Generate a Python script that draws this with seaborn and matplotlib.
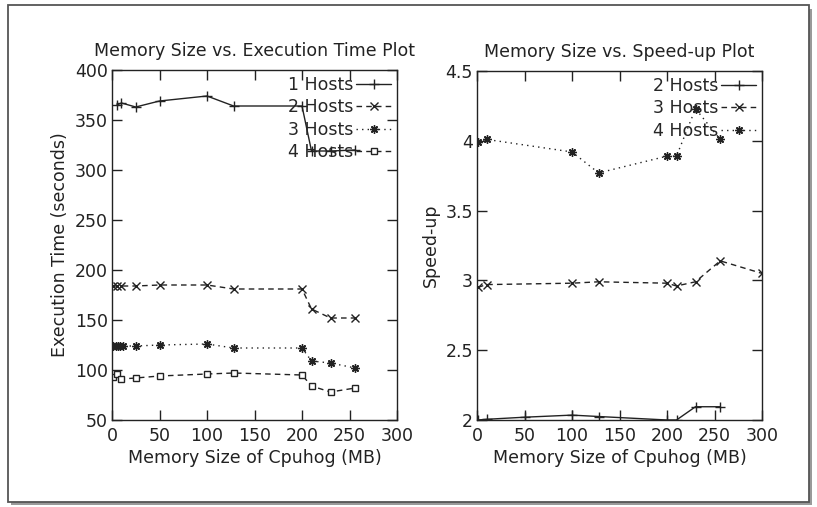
import matplotlib
matplotlib.use("Agg")
import matplotlib.pyplot as plt
import matplotlib.patches as mpatches
from matplotlib.ticker import FormatStrFormatter
import seaborn as sns
import pandas as pd

# ---------------- data ----------------
# Left: execution time (seconds) vs memory size of cpuhog (MB)
exec_x_1 = [5, 10, 25, 50, 100, 128, 200, 210, 230, 256]
exec_y_1 = [365, 367, 363, 369, 374, 364, 364, 319, 319, 320]
exec_x_2 = [1, 5, 10, 25, 50, 100, 128, 200, 210, 230, 256]
exec_y_2 = [184, 184, 184, 184, 185, 185, 181, 181, 161, 152, 152]
exec_x_3 = [1, 4, 6, 8, 12, 25, 50, 100, 128, 200, 210, 230, 256]
exec_y_3 = [124, 124, 124, 124, 124, 124, 125, 126, 122, 122, 109, 107, 102]
exec_x_4 = [1, 5, 10, 25, 50, 100, 128, 200, 210, 230, 256]
exec_y_4 = [93, 96, 91, 92, 94, 96, 97, 95, 84, 78, 82]

# Right: speed-up vs memory size of cpuhog (MB)
sp_x_2 = [1, 10, 50, 100, 128, 200, 210, 230, 256]
sp_y_2 = [2.0, 2.005, 2.02, 2.035, 2.025, 2.0, 2.0, 2.095, 2.095]
sp_x_3 = [1, 10, 100, 128, 200, 210, 230, 256, 300]
sp_y_3 = [2.95, 2.97, 2.98, 2.99, 2.98, 2.96, 2.99, 3.14, 3.05]
sp_x_4 = [1, 10, 100, 128, 200, 210, 230, 256]
sp_y_4 = [3.99, 4.01, 3.92, 3.77, 3.89, 3.89, 4.23, 4.01]

exec_labels = ["1 Hosts", "2 Hosts", "3 Hosts", "4 Hosts"]
sp_labels = ["2 Hosts", "3 Hosts", "4 Hosts"]
x_ticks = [0, 50, 100, 150, 200, 250, 300]
exec_ticks = [50, 100, 150, 200, 250, 300, 350, 400]
sp_ticks = [2, 2.5, 3, 3.5, 4, 4.5]

# ---------------- styles ----------------
sns.set_theme(style="white")
plt.rcParams["font.family"] = ["DejaVu Sans"]
INK = "#222222"
ASTER = (8, 2, 0)
style_list = [
    dict(marker="+", dashes=None, ms=7),          # solid, plus
    dict(marker="x", dashes=(4, 3), ms=5.5),      # dashed, cross
    dict(marker=ASTER, dashes=(1, 3), ms=6),      # dotted, asterisk
    dict(marker="s", dashes=(4, 3), ms=5),        # dashed, square
]

fig = plt.figure(figsize=(8.17, 5.07), dpi=100)
W, H = 817, 507


def ax_rect(x0, x1, ytop, ybot):
    return [x0 / W, 1 - ybot / H, (x1 - x0) / W, (ybot - ytop) / H]


axL = fig.add_axes(ax_rect(112, 397, 70, 420))
axR = fig.add_axes(ax_rect(477, 762, 71, 420))


def draw(ax, xs, ys, label, st):
    df = pd.DataFrame({"x": xs, "y": ys})
    kw = dict(data=df, x="x", y="y", ax=ax, color=INK, lw=1.0,
              marker=st["marker"], markersize=st["ms"], markeredgewidth=1.0,
              markeredgecolor=INK, label=label, legend=False)
    if st["marker"] == "s":
        kw.update(markerfacecolor="white")
    sns.lineplot(**kw)
    ln = ax.get_lines()[-1]
    if st["dashes"] is not None:
        ln.set_dashes(st["dashes"])
    return ln


linesL = [draw(axL, x, y, l, s) for x, y, l, s in zip(
    [exec_x_1, exec_x_2, exec_x_3, exec_x_4],
    [exec_y_1, exec_y_2, exec_y_3, exec_y_4], exec_labels, style_list)]
linesR = [draw(axR, x, y, l, s) for x, y, l, s in zip(
    [sp_x_2, sp_x_3, sp_x_4], [sp_y_2, sp_y_3, sp_y_4], sp_labels,
    style_list[:3])]

FS = 12.5
for ax, yt, ylab, title, lines, labels in [
    (axL, exec_ticks, "Execution Time (seconds)",
     "Memory Size vs. Execution Time Plot", linesL, exec_labels),
    (axR, sp_ticks, "Speed-up", "Memory Size vs. Speed-up Plot",
     linesR, sp_labels),
]:
    ax.set_xlim(0, 300)
    ax.set_ylim(yt[0], yt[-1])
    ax.set_xticks(x_ticks)
    ax.set_yticks(yt)
    ax.yaxis.set_major_formatter(FormatStrFormatter("%g"))
    ax.tick_params(direction="in", length=7, width=1, colors=INK,
                   labelcolor=INK, labelsize=FS, top=True, right=True,
                   bottom=True, left=True)
    ax.tick_params(axis="x", pad=5)
    ax.tick_params(axis="y", pad=3)
    for sp in ax.spines.values():
        sp.set_color(INK)
        sp.set_linewidth(1.0)
    ax.set_xlabel("Memory Size of Cpuhog (MB)", fontsize=FS, color=INK,
                  labelpad=3)
    ax.set_ylabel(ylab, fontsize=FS, color=INK, labelpad=4)
    ax.set_title(title, fontsize=FS, color=INK, pad=10)
    ax.set_facecolor("white")
    ax.legend(lines, labels, loc="upper right", frameon=False,
              markerfirst=False, fontsize=FS, handlelength=2.0,
              handletextpad=0.15, labelspacing=0.25,
              borderaxespad=0.1, borderpad=0.25)

# outer frame with shadow
fig.patches.append(mpatches.Rectangle(
    (11 / W, 1 - 505 / H), (812 - 11) / W, (505 - 9) / H,
    transform=fig.transFigure, facecolor="#9a9a9a", edgecolor="none",
    zorder=-2))
fig.patches.append(mpatches.Rectangle(
    (8 / W, 1 - 502 / H), (809 - 8) / W, (502 - 5) / H,
    transform=fig.transFigure, facecolor="white", edgecolor="#555555",
    linewidth=1.3, zorder=-1))

fig.savefig("out.png", dpi=100, facecolor="white")
